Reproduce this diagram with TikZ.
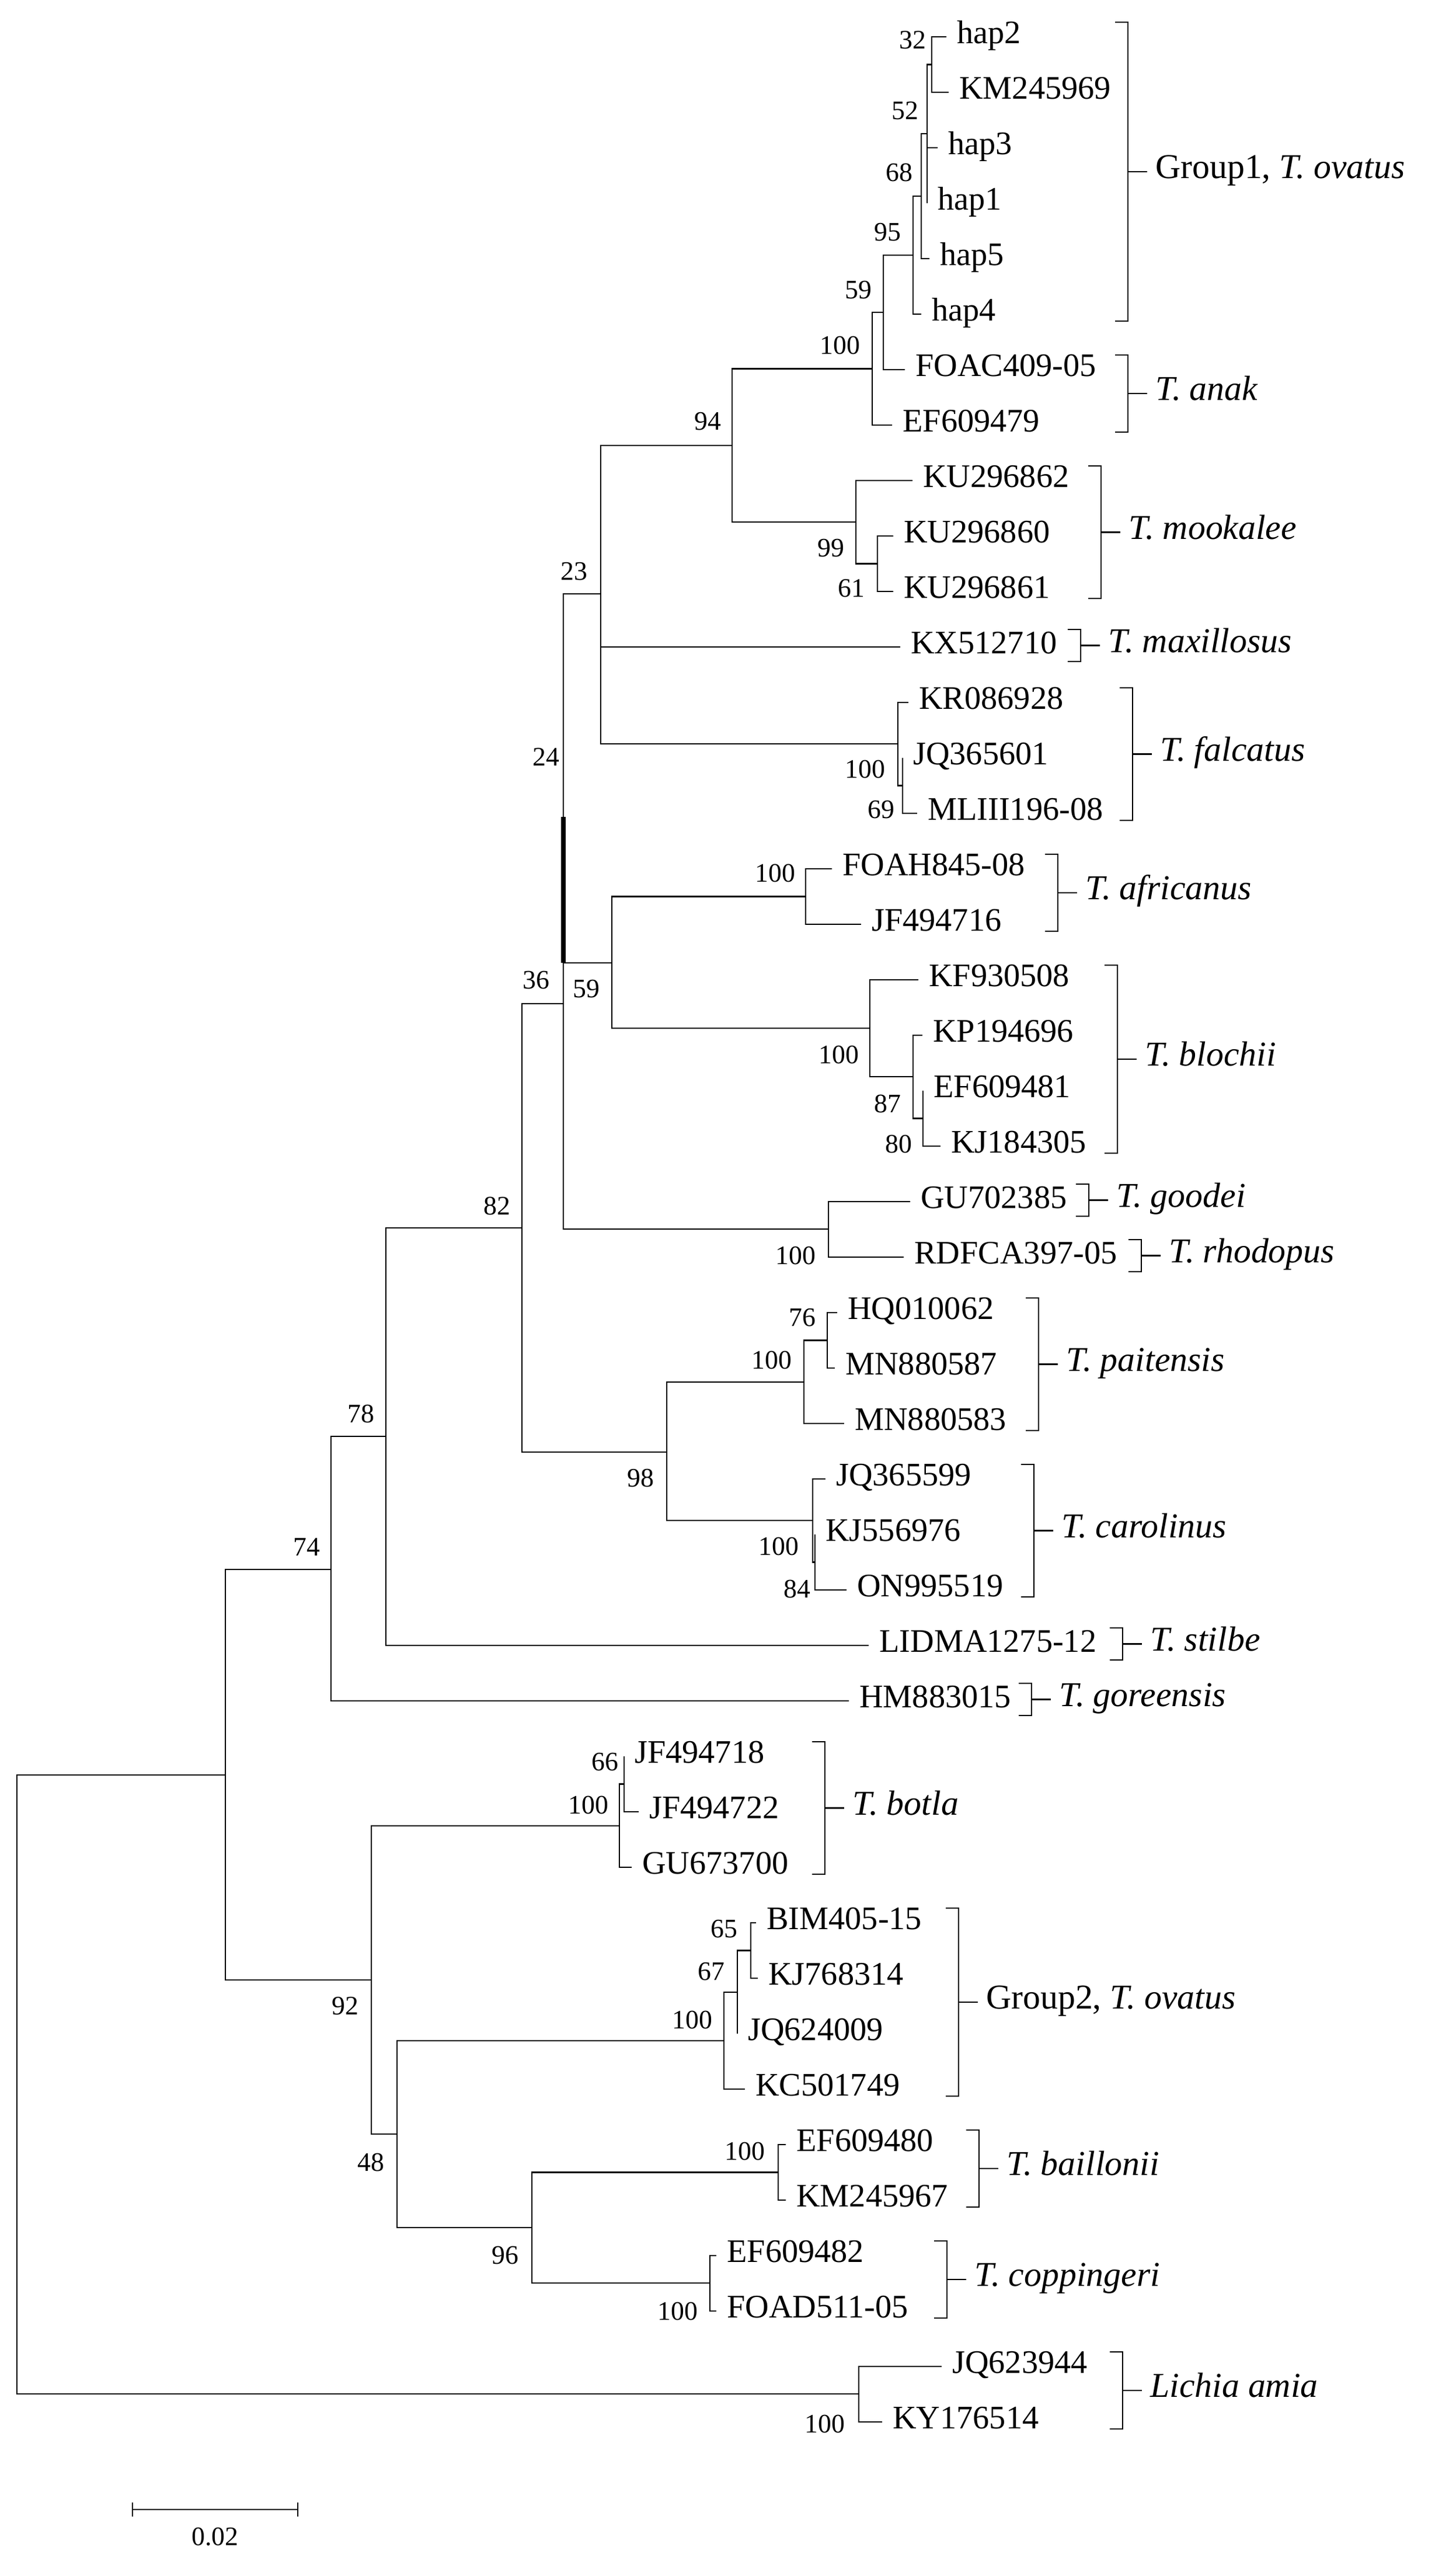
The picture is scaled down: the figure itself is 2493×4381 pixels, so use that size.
\documentclass[tikz,border=0pt]{standalone}
\usepackage{fontspec}
\setmainfont{Liberation Serif}
\usepackage{tikz}
\usetikzlibrary{positioning,calc}
\newcommand{\Clade}[5]{%
  \draw ({#1-22},#2) -- (#1,#2) -- (#1,#3) -- ({#1-22},#3);
  \draw (#1,{(#2+#3)/2}) -- ++(33,0) node[grp] (#4) {#5};}

\begin{document}
\begin{tikzpicture}[x=0.01cm,y=-0.01cm,line width=0.75pt,
    tip/.style={anchor=west,inner xsep=0.17cm,inner ysep=0pt,text height=0.66em,text depth=0pt,font=\fontsize{16}{18}\selectfont},
    grp/.style={anchor=west,inner xsep=0.13cm,inner ysep=0pt,text height=0.66em,text depth=0pt,font=\fontsize{17}{19}\selectfont},
    bs/.style={inner sep=0pt,font=\fontsize{13}{15}\selectfont}]
    \useasboundingbox (0,0) rectangle (2493,4381);
    % tips
    \node[tip] (hap2) at (1621,63) {hap2};
    \node[tip] (KM245969) at (1625,158) {KM245969};
    \node[tip] (hap3) at (1606,253) {hap3};
    \node[tip] (hap1) at (1588,348) {hap1};
    \node[tip] (hap5) at (1592,443) {hap5};
    \node[tip] (hap4) at (1578,538) {hap4};
    \node[tip] (FOAC) at (1550,633) {FOAC409-05};
    \node[tip] (EFa) at (1528,728) {EF609479};
    \node[tip] (KUb) at (1563,823) {KU296862};
    \node[tip] (KUc) at (1530,918) {KU296860};
    \node[tip] (KUd) at (1530,1013) {KU296861};
    \node[tip] (KX) at (1542,1108) {KX512710};
    \node[tip] (KR) at (1556,1203) {KR086928};
    \node[tip] (JQa) at (1546,1298) {JQ365601};
    \node[tip] (ML) at (1571,1393) {MLIII196-08};
    \node[tip] (FOAH) at (1425,1488) {FOAH845-08};
    \node[tip] (JFa) at (1475,1583) {JF494716};
    \node[tip] (KF) at (1573,1678) {KF930508};
    \node[tip] (KP) at (1580,1773) {KP194696};
    \node[tip] (EFb) at (1581,1868) {EF609481};
    \node[tip] (KJa) at (1611,1963) {KJ184305};
    \node[tip] (GU) at (1559,2058) {GU702385};
    \node[tip] (RD) at (1548,2153) {RDFCA397-05};
    \node[tip] (HQ) at (1434,2248) {HQ010062};
    \node[tip] (MNa) at (1430,2343) {MN880587};
    \node[tip] (MNb) at (1446,2438) {MN880583};
    \node[tip] (JQb) at (1414,2533) {JQ365599};
    \node[tip] (KJb) at (1396,2628) {KJ556976};
    \node[tip] (ON) at (1450,2723) {ON995519};
    \node[tip] (LID) at (1488,2818) {LIDMA1275-12};
    \node[tip] (HM) at (1454,2913) {HM883015};
    \node[tip] (JFb) at (1069,3008) {JF494718};
    \node[tip] (JFc) at (1094,3103) {JF494722};
    \node[tip] (GUb) at (1082,3198) {GU673700};
    \node[tip] (BIM) at (1295,3293) {BIM405-15};
    \node[tip] (KJc) at (1298,3388) {KJ768314};
    \node[tip] (JQc) at (1263,3483) {JQ624009};
    \node[tip] (KC) at (1276,3578) {KC501749};
    \node[tip] (EFc) at (1346,3673) {EF609480};
    \node[tip] (KMb) at (1346,3768) {KM245967};
    \node[tip] (EFd) at (1227,3863) {EF609482};
    \node[tip] (FOAD) at (1227,3958) {FOAD511-05};
    \node[tip] (JQd) at (1613,4053) {JQ623944};
    \node[tip] (KY) at (1511,4148) {KY176514};
    % internal nodes
    \coordinate (n32) at (1596,110.5);
    \coordinate (n52) at (1588,229);
    \coordinate (n68) at (1578,336);
    \coordinate (n95) at (1564,437);
    \coordinate (n59a) at (1513,535);
    \coordinate (n100a) at (1494,631.5);
    \coordinate (n61) at (1503,965.5);
    \coordinate (n99) at (1466,894);
    \coordinate (n94) at (1254,763);
    \coordinate (n69) at (1546,1345.5);
    \coordinate (n100f) at (1538,1274);
    \coordinate (n23) at (1029,1017);
    \coordinate (n100af) at (1380,1535.5);
    \coordinate (n80) at (1581,1915.5);
    \coordinate (n87) at (1564,1844);
    \coordinate (n100b) at (1490,1761);
    \coordinate (n59b) at (1048,1649);
    \coordinate (n100gd) at (1419,2105);
    \coordinate (n24) at (965,1719);
    \coordinate (n76) at (1417,2295.5);
    \coordinate (n100p) at (1377,2367);
    \coordinate (n84) at (1396,2675.5);
    \coordinate (n100c) at (1392,2604);
    \coordinate (n98) at (1142,2487);
    \coordinate (n82) at (894,2103);
    \coordinate (n78) at (661,2460);
    \coordinate (n74) at (567,2688);
    \coordinate (nA) at (386,3040);
    \coordinate (n66) at (1069,3055.5);
    \coordinate (n100bt) at (1061,3127);
    \coordinate (n65) at (1286,3340.5);
    \coordinate (n67) at (1263,3412);
    \coordinate (n100g) at (1240,3495);
    \coordinate (n100bl) at (1333,3720.5);
    \coordinate (n100cp) at (1216,3910);
    \coordinate (n96) at (911,3815);
    \coordinate (n48) at (680,3655);
    \coordinate (n92) at (636,3391);
    \coordinate (nLi) at (1471,4100);
    \coordinate (root) at (29,3570);
    % branches
    \foreach \p/\c in {n32/hap2,n32/KM245969,n52/n32,n52/hap3,n52/hap1,n68/n52,n68/hap5,
        n95/n68,n95/hap4,n59a/n95,n59a/FOAC,n100a/n59a,n100a/EFa,n61/KUc,n61/KUd,
        n99/KUb,n99/n61,n94/n100a,n94/n99,n69/JQa,n69/ML,n100f/KR,n100f/n69,
        n23/n94,n23/KX,n23/n100f,n100af/FOAH,n100af/JFa,n80/EFb,n80/KJa,n87/KP,n87/n80,
        n100b/KF,n100b/n87,n59b/n100af,n59b/n100b,n100gd/GU,n100gd/RD,
        n24/n23,n24/n59b,n24/n100gd,n76/HQ,n76/MNa,n100p/n76,n100p/MNb,
        n84/KJb,n84/ON,n100c/JQb,n100c/n84,n98/n100p,n98/n100c,n82/n24,n82/n98,
        n78/n82,n78/LID,n74/n78,n74/HM,nA/n74,nA/n92,n66/JFb,n66/JFc,n100bt/n66,n100bt/GUb,
        n65/BIM,n65/KJc,n67/n65,n67/JQc,n100g/n67,n100g/KC,n100bl/EFc,n100bl/KMb,
        n100cp/EFd,n100cp/FOAD,n96/n100bl,n96/n100cp,n48/n100g,n48/n96,
        n92/n100bt,n92/n48,nLi/JQd,nLi/KY,root/nA,root/nLi}
      \draw (\p) |- (\c.west);
    \draw[line width=2.2pt] ($(n24)+(0,-320)$) -- ($(n24)+(0,-70)$);
    % bootstrap values
    \node[bs] (b32) at (1563,69) {32};
    \node[bs] (b52) at (1550,190) {52};
    \node[bs] (b68) at (1540,296) {68};
    \node[bs] (b95) at (1520,398) {95};
    \node[bs] (b59a) at (1470,497) {59};
    \node[bs] (b100a) at (1439,592) {100};
    \node[bs] (b94) at (1212,722) {94};
    \node[bs] (b99) at (1423,939) {99};
    \node[bs] (b61) at (1458,1008) {61};
    \node[bs] (b100f) at (1482,1318) {100};
    \node[bs] (b69) at (1509,1387) {69};
    \node[bs] (b23) at (983,979) {23};
    \node[bs] (b24) at (935,1296) {24};
    \node[bs] (b36) at (918,1679) {36};
    \node[bs] (b59b) at (1004,1694) {59};
    \node[bs] (b100af) at (1328,1495) {100};
    \node[bs] (b100b) at (1437,1806) {100};
    \node[bs] (b87) at (1520,1890) {87};
    \node[bs] (b80) at (1539,1959) {80};
    \node[bs] (b100gd) at (1363,2150) {100};
    \node[bs] (b82) at (851,2065) {82};
    \node[bs] (b76) at (1374,2257) {76};
    \node[bs] (b100p) at (1322,2329) {100};
    \node[bs] (b98) at (1097,2531) {98};
    \node[bs] (b100c) at (1334,2648) {100};
    \node[bs] (b84) at (1365,2721) {84};
    \node[bs] (b78) at (618,2421) {78};
    \node[bs] (b74) at (525,2649) {74};
    \node[bs] (b66) at (1036,3018) {66};
    \node[bs] (b100bt) at (1008,3091) {100};
    \node[bs] (b92) at (591,3436) {92};
    \node[bs] (b65) at (1240,3304) {65};
    \node[bs] (b67) at (1218,3377) {67};
    \node[bs] (b100g) at (1186,3459) {100};
    \node[bs] (b48) at (635,3703) {48};
    \node[bs] (b100bl) at (1276,3684) {100};
    \node[bs] (b96) at (865,3863) {96};
    \node[bs] (b100cp) at (1161,3958) {100};
    \node[bs] (b100li) at (1413,4151) {100};
    % species brackets
    \Clade{1932}{38}{550}{g1}{Group1, \textit{T. ovatus}}
    \Clade{1932}{608}{740}{anak}{\textit{T. anak}}
    \Clade{1886}{798}{1025}{mook}{\textit{T. mookalee}}
    \Clade{1851}{1078}{1133}{maxi}{\textit{T. maxillosus}}
    \Clade{1940}{1178}{1405}{falc}{\textit{T. falcatus}}
    \Clade{1812}{1463}{1595}{afri}{\textit{T. africanus}}
    \Clade{1914}{1653}{1975}{bloc}{\textit{T. blochii}}
    \Clade{1865}{2028}{2083}{good}{\textit{T. goodei}}
    \Clade{1955}{2123}{2178}{rhod}{\textit{T. rhodopus}}
    \Clade{1779}{2223}{2450}{pait}{\textit{T. paitensis}}
    \Clade{1771}{2508}{2735}{caro}{\textit{T. carolinus}}
    \Clade{1923}{2788}{2843}{stil}{\textit{T. stilbe}}
    \Clade{1767}{2883}{2938}{gore}{\textit{T. goreensis}}
    \Clade{1413}{2983}{3210}{botl}{\textit{T. botla}}
    \Clade{1642}{3268}{3590}{g2}{Group2, \textit{T. ovatus}}
    \Clade{1677}{3648}{3780}{bail}{\textit{T. baillonii}}
    \Clade{1622}{3838}{3970}{copp}{\textit{T. coppingeri}}
    \Clade{1923}{4028}{4160}{lich}{\textit{Lichia amia}}
    % scale bar
    \coordinate (sbl) at (227,4298);
    \coordinate (sbr) at (510,4298);
    \draw (sbl) -- (sbr);
    \draw ($(sbl)+(0,-12)$) -- ($(sbl)+(0,12)$);
    \draw ($(sbr)+(0,-12)$) -- ($(sbr)+(0,12)$);
    \node[bs,below=0.3cm of $(sbl)!0.5!(sbr)$] (sb) {0.02};
\end{tikzpicture}
\end{document}
